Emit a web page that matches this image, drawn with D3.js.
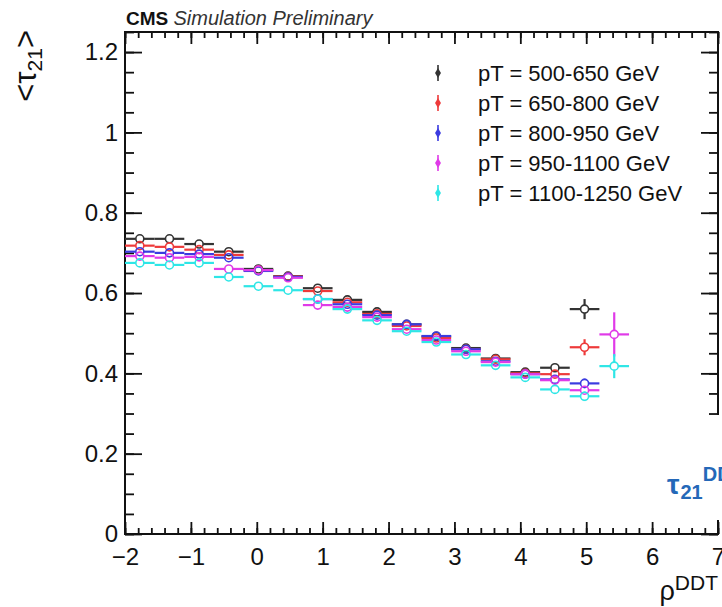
<!DOCTYPE html>
<html>
<head>
<meta charset="utf-8">
<script src="https://cdn.jsdelivr.net/npm/d3@7/dist/d3.min.js"></script>
<style>
body { margin: 0; background: #fff; }
svg text { font-family: "Liberation Sans", Arial, Helvetica, sans-serif; fill: #111; }
</style>
</head>
<body>
<div id="legraph"></div>
<script>
// rho^DDT bin centres (bins of 0.45 starting at -2) and half bin width
var rhoBins = [-1.775, -1.325, -0.875, -0.425, 0.025, 0.475, 0.925, 1.375, 1.825, 2.275, 2.725, 3.175, 3.625, 4.075, 4.525, 4.975, 5.425]
var binHalfWidth = 0.225

// <tau21> per pT bin, null = empty bin
var pt500     = [0.735, 0.735, 0.722, 0.703, 0.660, 0.642, 0.612, 0.583, 0.553, 0.522, 0.492, 0.463, 0.437, 0.403, 0.414, 0.560, null]
var pt500Err  = [0.004, 0.004, 0.004, 0.004, 0.004, 0.004, 0.004, 0.004, 0.004, 0.004, 0.004, 0.004, 0.005, 0.006, 0.008, 0.025, null]
var pt650     = [0.718, 0.715, 0.708, 0.695, 0.657, 0.641, 0.605, 0.577, 0.548, 0.518, 0.488, 0.460, 0.435, 0.400, 0.398, 0.465, null]
var pt650Err  = [0.004, 0.004, 0.004, 0.004, 0.004, 0.004, 0.004, 0.004, 0.004, 0.004, 0.004, 0.004, 0.005, 0.006, 0.007, 0.020, null]
var pt800     = [0.703, 0.700, 0.697, 0.688, 0.655, 0.640, 0.585, 0.572, 0.545, 0.522, 0.493, 0.460, 0.430, 0.398, 0.385, 0.375, null]
var pt800Err  = [0.004, 0.004, 0.004, 0.004, 0.004, 0.004, 0.004, 0.004, 0.004, 0.004, 0.004, 0.004, 0.005, 0.006, 0.007, 0.012, null]
var pt950     = [0.692, 0.688, 0.690, 0.660, 0.657, 0.638, 0.570, 0.565, 0.540, 0.510, 0.483, 0.455, 0.428, 0.398, 0.383, 0.358, 0.497]
var pt950Err  = [0.004, 0.004, 0.004, 0.004, 0.004, 0.004, 0.004, 0.004, 0.004, 0.004, 0.004, 0.004, 0.005, 0.006, 0.007, 0.010, 0.055]
var pt1100    = [0.675, 0.670, 0.675, 0.640, 0.617, 0.607, 0.585, 0.560, 0.532, 0.505, 0.478, 0.447, 0.420, 0.390, 0.360, 0.343, 0.418]
var pt1100Err = [0.004, 0.004, 0.004, 0.004, 0.004, 0.004, 0.004, 0.004, 0.004, 0.004, 0.004, 0.004, 0.005, 0.006, 0.007, 0.012, 0.030]

var seriesLabels = ["pT = 500-650 GeV", "pT = 650-800 GeV", "pT = 800-950 GeV", "pT = 950-1100 GeV", "pT = 1100-1250 GeV"]
var seriesValues = [pt500, pt650, pt800, pt950, pt1100]
var seriesErrors = [pt500Err, pt650Err, pt800Err, pt950Err, pt1100Err]
var seriesColors = ["#333333", "#ee3a3a", "#3b3be0", "#e03ae8", "#2ee6e6"]

var xTicks = [-2, -1, 0, 1, 2, 3, 4, 5, 6, 7]
var yTicks = [0, 0.2, 0.4, 0.6, 0.8, 1, 1.2]

// canvas
var width = 722, height = 607
var svg = d3.select('#legraph')
	.append("svg")
	.attr("width", width)
	.attr("height", height)

var x = d3.scaleLinear().domain([-2, 7]).range([125, 718])
var y = d3.scaleLinear().domain([0, 1.25]).range([534, 32])

var xMinor = d3.range(-2, 7.001, 0.2)
var yMinor = d3.range(0, 1.2501, 0.05)

// axes, ticks pointing inwards like ROOT
function styleAxis(g) {
	g.select(".domain").remove()
	g.selectAll(".tick line").attr("stroke", "#111").attr("stroke-width", 1.8)
	g.selectAll("text").attr("font-size", 24).attr("fill", "#111")
}

svg.append("g").attr("transform", "translate(0," + y(0) + ")")
	.call(d3.axisBottom(x).tickValues(xMinor).tickSize(-6).tickFormat(""))
	.call(styleAxis)
svg.append("g").attr("transform", "translate(0," + y(0) + ")")
	.call(d3.axisBottom(x).tickValues(xTicks).tickSize(-12).tickPadding(14))
	.call(styleAxis)
svg.append("g").attr("transform", "translate(0," + y(1.25) + ")")
	.call(d3.axisTop(x).tickValues(xMinor).tickSize(-6).tickFormat(""))
	.call(styleAxis)
svg.append("g").attr("transform", "translate(0," + y(1.25) + ")")
	.call(d3.axisTop(x).tickValues(xTicks).tickSize(-12).tickFormat(""))
	.call(styleAxis)

svg.append("g").attr("transform", "translate(" + x(-2) + ",0)")
	.call(d3.axisLeft(y).tickValues(yMinor).tickSize(-9).tickFormat(""))
	.call(styleAxis)
svg.append("g").attr("transform", "translate(" + x(-2) + ",0)")
	.call(d3.axisLeft(y).tickValues(yTicks).tickSize(-17).tickPadding(7).tickFormat(d3.format("~g")))
	.call(styleAxis)
svg.append("g").attr("transform", "translate(" + x(7) + ",0)")
	.call(d3.axisRight(y).tickValues(yMinor).tickSize(-9).tickFormat(""))
	.call(styleAxis)
svg.append("g").attr("transform", "translate(" + x(7) + ",0)")
	.call(d3.axisRight(y).tickValues(yTicks).tickSize(-17).tickFormat(""))
	.call(styleAxis)

// frame
svg.append("rect")
	.attr("x", x(-2)).attr("y", y(1.25))
	.attr("width", x(7) - x(-2)).attr("height", y(0) - y(1.25))
	.attr("fill", "none").attr("stroke", "#111").attr("stroke-width", 2)

// points: horizontal bin bars, vertical errors, open circles
var r = 4
seriesValues.forEach(function(vals, s) {
	var color = seriesColors[s]
	var pts = vals.map(function(v, i) { return {x: rhoBins[i], v: v, e: seriesErrors[s][i]} })
		.filter(function(d) { return d.v !== null })
	var g = svg.append("g").attr("stroke", color).attr("fill", "none")
	pts.forEach(function(d) {
		var cx = x(d.x), cy = y(d.v)
		g.append("line").attr("x1", x(d.x - binHalfWidth)).attr("x2", cx - r)
			.attr("y1", cy).attr("y2", cy).attr("stroke-width", 2.2)
		g.append("line").attr("x1", cx + r).attr("x2", x(d.x + binHalfWidth))
			.attr("y1", cy).attr("y2", cy).attr("stroke-width", 2.2)
		var top = y(d.v + d.e), bot = y(d.v - d.e)
		if (cy - top > r) {
			g.append("line").attr("x1", cx).attr("x2", cx).attr("y1", top).attr("y2", cy - r).attr("stroke-width", 2.2)
			g.append("line").attr("x1", cx).attr("x2", cx).attr("y1", cy + r).attr("y2", bot).attr("stroke-width", 2.2)
		}
		g.append("circle").attr("cx", cx).attr("cy", cy).attr("r", r).attr("stroke-width", 1.6)
	})
})

// legend
var legend = svg.append("g")
seriesLabels.forEach(function(lab, s) {
	var ly = 73 + s * 30
	legend.append("line").attr("x1", 438).attr("x2", 438).attr("y1", ly - 8).attr("y2", ly + 8)
		.attr("stroke", seriesColors[s]).attr("stroke-width", 1.6)
	legend.append("path").attr("d", d3.symbol(d3.symbolDiamond, 30)())
		.attr("transform", "translate(438," + ly + ")")
		.attr("fill", seriesColors[s])
	legend.append("text").attr("x", 478).attr("y", ly).attr("dy", "0.35em")
		.attr("font-size", 22).text(lab)
})

// header
var head = svg.append("text").attr("x", 126).attr("y", 25)
head.append("tspan").attr("font-weight", "bold").attr("font-size", 19).text("CMS ")
head.append("tspan").attr("font-style", "italic").attr("font-size", 20).attr("fill", "#333").text("Simulation Preliminary")

// y title <tau21>
var yt = svg.append("text").attr("transform", "translate(36,30) rotate(-90)")
	.attr("text-anchor", "end").attr("font-size", 31)
yt.append("tspan").text("<τ")
yt.append("tspan").attr("font-size", 21).attr("dy", 6).text("21")
yt.append("tspan").attr("dy", -6).text(">")

// x title rho^DDT
var xt = svg.append("text").attr("x", 718).attr("y", 600).attr("text-anchor", "end").attr("font-size", 27)
xt.append("tspan").text("ρ")
xt.append("tspan").attr("font-size", 21).attr("dy", -10).text("DDT")

// tau21^DDT label box (covers the frame)
svg.append("rect").attr("x", 652).attr("y", 415).attr("width", 70).attr("height", 105).attr("fill", "#fff")
var tl = svg.append("text").attr("x", 667).attr("y", 494).attr("font-weight", "bold").attr("font-size", 28)
	.style("fill", "#2468b8")
tl.append("tspan").style("fill", "#2468b8").text("τ")
tl.append("tspan").style("fill", "#2468b8").attr("font-size", 20).attr("dx", 1).attr("dy", 5).text("21")
tl.append("tspan").style("fill", "#2468b8").attr("font-size", 20).attr("dy", -18).text("DDT")
</script>
</body>
</html>
